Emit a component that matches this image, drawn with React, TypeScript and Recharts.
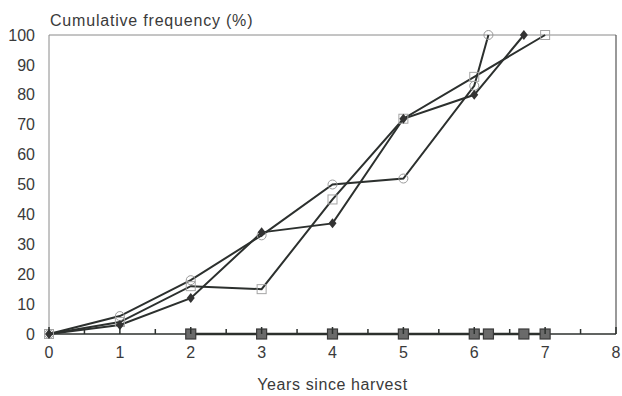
import { LineChart, Line, XAxis, YAxis, ReferenceLine } from 'recharts';

// years since harvest / cumulative frequency
const circleYears = [0, 1, 2, 3, 4, 5, 6, 6.2];
const circleFreq = [0, 6, 18, 33, 50, 52, 83, 100];

const squareYears = [0, 1, 2, 3, 4, 5, 6, 7];
const squareFreq = [0, 4, 16, 15, 45, 72, 86, 100];

const diamondYears = [0, 1, 2, 3, 4, 5, 6, 6.7];
const diamondFreq = [0, 3, 12, 34, 37, 72, 80, 100];

const baseYears = [2, 3, 4, 5, 6, 6.2, 6.7, 7];
const baseFreq = [0, 0, 0, 0, 0, 0, 0, 0];

const xTicks = [0, 0.5, 1, 1.5, 2, 2.5, 3, 3.5, 4, 4.5, 5, 5.5, 6, 6.5, 7, 7.5, 8];
const yTicks = [0, 10, 20, 30, 40, 50, 60, 70, 80, 90, 100];

const FONT = '"Liberation Sans", Arial, Helvetica, sans-serif';
const INK = '#2c302e';
const TEXT = '#3a3a3a';

const pairs = (xs: number[], ys: number[]) => xs.map((x, i) => ({ x, y: ys[i] }));

function XTick({ x, y, payload }: any) {
  const v = payload.value as number;
  const major = Number.isInteger(v);
  return (
    <g>
      <line x1={x} x2={x} y1={y} y2={y - (major ? 7 : 5)} stroke={INK} strokeWidth={1.5} />
      {major && (
        <text x={x} y={y + 24} textAnchor="middle" fill={TEXT} fontSize={16} fontFamily={FONT}>
          {v}
        </text>
      )}
    </g>
  );
}

function circleDot({ cx, cy, index }: any) {
  return <circle key={`c${index}`} cx={cx} cy={cy} r={4.5} fill="none" stroke="#9a9a9a" strokeWidth={1} />;
}

function squareDot({ cx, cy, index }: any) {
  return (
    <rect key={`s${index}`} x={cx - 4.5} y={cy - 4.5} width={9} height={9} fill="none" stroke="#a5a5a5" strokeWidth={1} />
  );
}

function diamondDot({ cx, cy, index }: any) {
  return (
    <path key={`d${index}`} d={`M${cx},${cy - 5}L${cx + 4},${cy}L${cx},${cy + 5}L${cx - 4},${cy}Z`} fill="#333" />
  );
}

function baseDot({ cx, cy, index }: any) {
  return (
    <rect key={`b${index}`} x={cx - 5} y={cy - 5} width={10} height={10} fill="#6a6a6a" stroke="#3a3a3a" strokeWidth={1.2} />
  );
}

export default function App() {
  return (
    <div style={{ position: 'relative', width: 622, height: 396, background: '#fff' }}>
      <style>{'body{margin:0}'}</style>
      <div
        style={{
          position: 'absolute',
          left: 50,
          top: 13,
          fontFamily: FONT,
          fontSize: 16,
          lineHeight: '16px',
          letterSpacing: '0.8px',
          color: TEXT,
          whiteSpace: 'nowrap',
        }}
      >
        Cumulative frequency (%)
      </div>
      <LineChart width={622} height={396} margin={{ top: 35, right: 6, left: 0, bottom: 0 }}>
        <XAxis
          type="number"
          dataKey="x"
          domain={[0, 8]}
          ticks={xTicks}
          interval={0}
          height={62}
          tickSize={0}
          tickMargin={0}
          tickLine={false}
          tick={<XTick />}
          axisLine={{ stroke: INK, strokeWidth: 1.5 }}
          label={{
            value: 'Years since harvest',
            position: 'insideBottom',
            offset: 6,
            fill: TEXT,
            fontSize: 16,
            fontFamily: FONT,
            letterSpacing: '0.6px',
          }}
        />
        <YAxis
          type="number"
          domain={[0, 100]}
          ticks={yTicks}
          interval={0}
          width={49}
          tickSize={0}
          tickMargin={14}
          tickLine={false}
          axisLine={{ stroke: '#8a8a8a', strokeWidth: 1 }}
          tick={{ fill: TEXT, fontSize: 16, fontFamily: FONT }}
        />
        <ReferenceLine y={100} stroke="#8a8a8a" strokeWidth={1} />
        <ReferenceLine x={8} stroke="#555" strokeWidth={1.2} />
        <Line
          data={pairs(baseYears, baseFreq)}
          dataKey="y"
          type="linear"
          stroke={INK}
          strokeWidth={2.5}
          dot={baseDot}
          isAnimationActive={false}
        />
        <Line
          data={pairs(circleYears, circleFreq)}
          dataKey="y"
          type="linear"
          stroke={INK}
          strokeWidth={2}
          dot={circleDot}
          isAnimationActive={false}
        />
        <Line
          data={pairs(squareYears, squareFreq)}
          dataKey="y"
          type="linear"
          stroke={INK}
          strokeWidth={2}
          dot={squareDot}
          isAnimationActive={false}
        />
        <Line
          data={pairs(diamondYears, diamondFreq)}
          dataKey="y"
          type="linear"
          stroke={INK}
          strokeWidth={2}
          dot={diamondDot}
          isAnimationActive={false}
        />
      </LineChart>
    </div>
  );
}
